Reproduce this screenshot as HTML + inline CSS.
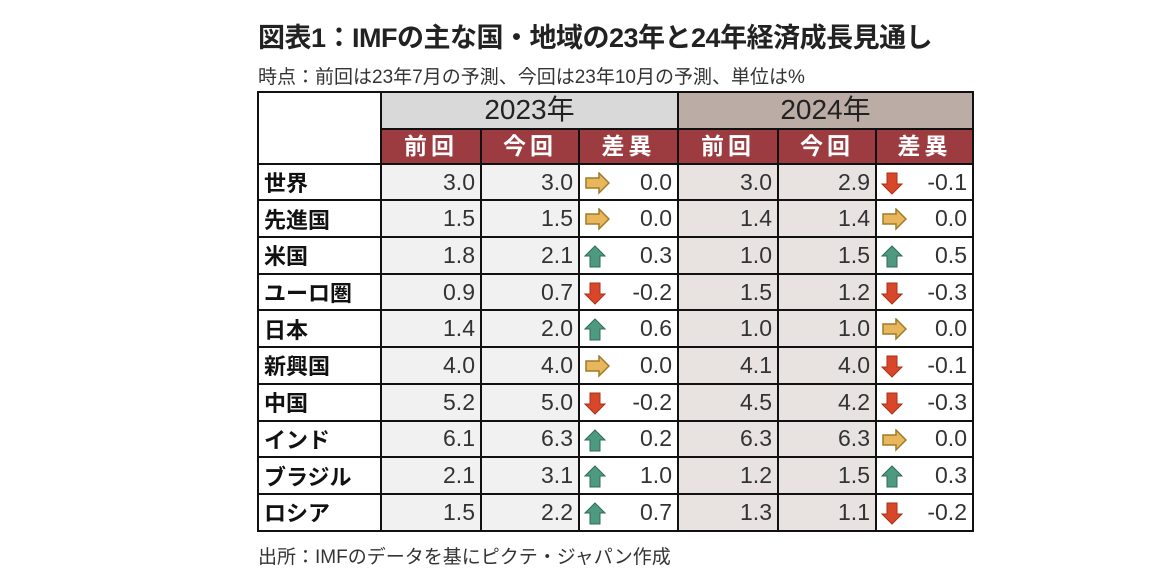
<!DOCTYPE html>
<html><head><meta charset="utf-8"><style>
body{margin:0;width:1152px;height:583px;background:#fff;font-family:"Liberation Sans","Noto Sans CJK JP",sans-serif;position:relative;overflow:hidden}
.t{position:absolute;left:258px;top:16px;font-size:27px;font-weight:bold;color:#222;white-space:nowrap;letter-spacing:-0.5px}
.s{position:absolute;left:258px;top:62px;font-size:19px;color:#333;white-space:nowrap}
.f{position:absolute;left:258px;top:542px;font-size:19px;color:#333;white-space:nowrap}
table{position:absolute;left:257px;top:91px;border-collapse:collapse;table-layout:fixed}
td{border:2px solid #111;padding:0 5px;height:34.7px;font-size:23px;color:#333;text-align:right;white-space:nowrap}
td.l{text-align:left;font-weight:bold;color:#111;background:#fff;font-size:22px}
.y1{background:#d9d9d9;text-align:center;font-size:28px;height:32px;line-height:32px;color:#222;padding:0}
.y2{background:#bcaca6;text-align:center;font-size:28px;line-height:32px;color:#222;padding:0}
.h{background:#9c3b40;color:#fff;text-align:center;font-weight:bold;font-size:23px;letter-spacing:4px;height:33px;line-height:33px;padding:0}
.a{background:#f1f1f1}.b{background:#e8e2e1}.w{background:#fff}
.d{position:relative}
.d svg{position:absolute;left:4px;top:7px}
</style></head><body>
<div class="t">図表1：IMFの主な国・地域の23年と24年経済成長見通し</div>
<div class="s">時点：前回は23年7月の予測、今回は23年10月の予測、単位は%</div>
<table>
<colgroup><col style="width:123px"><col style="width:100px"><col style="width:98px"><col style="width:99px"><col style="width:100px"><col style="width:98px"><col style="width:97px"></colgroup>
<tr><td class="w" rowspan="2"></td><td class="y1" colspan="3">2023年</td><td class="y2" colspan="3">2024年</td></tr>
<tr><td class="h">前回</td><td class="h">今回</td><td class="h">差異</td><td class="h">前回</td><td class="h">今回</td><td class="h">差異</td></tr>
</table>
<svg width="0" height="0" style="position:absolute"><defs>
<g id="r"><path d="M2 6h13V1l10 10-10 10v-5H2z" fill="#e8b75c" stroke="#a07a2a" stroke-width="1.5"/></g>
<g id="u"><path d="M11 1l10 10h-5v11H6V11H1z" fill="#4e9a80" stroke="#2f6b55" stroke-width="1"/></g>
<g id="dn"><path d="M6 1h10v11h5L11 22 1 12h5z" fill="#d9472b" stroke="#a83015" stroke-width="1"/></g>
</defs></svg>
<script>
const rows=[["世界","3.0","3.0","r","0.0","3.0","2.9","dn","-0.1"],["先進国","1.5","1.5","r","0.0","1.4","1.4","r","0.0"],["米国","1.8","2.1","u","0.3","1.0","1.5","u","0.5"],["ユーロ圏","0.9","0.7","dn","-0.2","1.5","1.2","dn","-0.3"],["日本","1.4","2.0","u","0.6","1.0","1.0","r","0.0"],["新興国","4.0","4.0","r","0.0","4.1","4.0","dn","-0.1"],["中国","5.2","5.0","dn","-0.2","4.5","4.2","dn","-0.3"],["インド","6.1","6.3","u","0.2","6.3","6.3","r","0.0"],["ブラジル","2.1","3.1","u","1.0","1.2","1.5","u","0.3"],["ロシア","1.5","2.2","u","0.7","1.3","1.1","dn","-0.2"]];
const tb=document.querySelector("table");
const ic=k=>`<svg width="26" height="23"><use href="#${k}"/></svg>`;
for(const r of rows){const tr=document.createElement("tr");
tr.innerHTML=`<td class="l">${r[0]}</td><td class="a">${r[1]}</td><td class="a">${r[2]}</td><td class="w d">${ic(r[3])}${r[4]}</td><td class="b">${r[5]}</td><td class="b">${r[6]}</td><td class="w d">${ic(r[7])}${r[8]}</td>`;
tb.appendChild(tr);}
</script>
<div class="f">出所：IMFのデータを基にピクテ・ジャパン作成</div>
</body></html>
